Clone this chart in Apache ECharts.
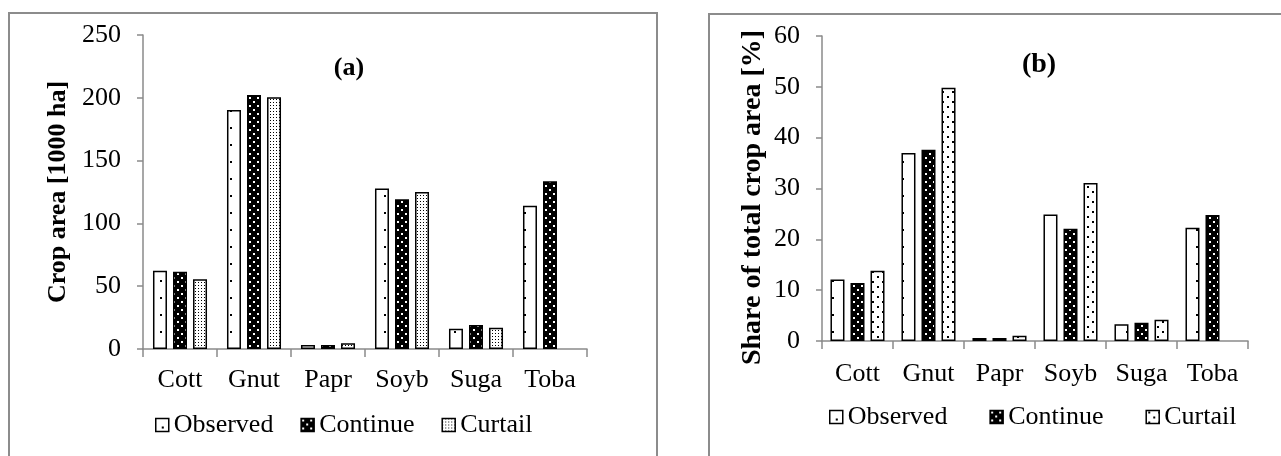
<!DOCTYPE html>
<html>
<head>
<meta charset="utf-8">
<script src="https://cdn.jsdelivr.net/npm/echarts@6/dist/echarts.min.js"></script>
<style>
html,body{margin:0;padding:0;background:#fff;}
#c{width:1281px;height:456px;}
</style>
</head>
<body>
<div id="c"></div>
<script>
const categories = ['Cott', 'Gnut', 'Papr', 'Soyb', 'Suga', 'Toba'];
const seriesNames = ['Observed', 'Continue', 'Curtail'];
// (a) crop area [1000 ha]
const areaObserved = [62.4, 190.3, 3.2, 127.7, 16.2, 114.1];
const areaContinue = [61.6, 202.2, 3.2, 119.2, 19.1, 133.5];
const areaCurtail  = [55.5, 200.4, 4.5, 125.0, 17.0, null];
// (b) share of total crop area [%]
const shareObserved = [12.1, 37.0, 0.6, 24.9, 3.3, 22.3];
const shareContinue = [11.4, 37.6, 0.6, 22.1, 3.6, 24.8];
const shareCurtail  = [13.8, 49.8, 1.05, 31.1, 4.2, null];
const ticksA = {min: 0, max: 250, interval: 50};
const ticksB = {min: 0, max: 60, interval: 10};

function makePattern(w, h, bg, fg, dots, ds) {
  const cv = document.createElement('canvas');
  cv.width = w; cv.height = h;
  const ctx = cv.getContext('2d');
  ctx.fillStyle = bg; ctx.fillRect(0, 0, w, h);
  ctx.fillStyle = fg;
  dots.forEach(d => ctx.fillRect(d[0], d[1], ds, ds));
  return {image: cv, repeat: 'repeat'};
}
const patObs = makePattern(14, 17, '#fff', '#000', [[6, 8]], 2);
const patCont = makePattern(8, 8, '#000', '#fff', [[1, 1], [5, 5]], 2);
const patCurtA = makePattern(3, 3, '#fff', '#000', [[0, 0]], 1);
const patCurtB = makePattern(10, 10, '#fff', '#000', [[2, 1], [7, 6]], 2);

const FONT = 'Liberation Serif';
const AXIS_COLOR = '#8a8a8a';

function xAxis(gridIndex, margin) {
  return {
    type: 'category', gridIndex, data: categories,
    axisLine: {lineStyle: {color: AXIS_COLOR, width: 1.5}},
    axisTick: {show: true, length: 8, lineStyle: {color: AXIS_COLOR, width: 1.5}},
    axisLabel: {color: '#000', fontFamily: FONT, fontSize: 26, margin}
  };
}
function yAxis(gridIndex, t, name, nameSize, nameGap, namePad) {
  return {
    type: 'value', gridIndex, min: t.min, max: t.max, interval: t.interval,
    name, nameLocation: 'middle', nameGap,
    nameTextStyle: {color: '#000', fontFamily: FONT, fontWeight: 'bold', fontSize: nameSize, padding: namePad},
    axisLine: {show: true, lineStyle: {color: AXIS_COLOR, width: 1.5}},
    axisTick: {show: true, length: 6, lineStyle: {color: AXIS_COLOR, width: 1.5}},
    splitLine: {show: false},
    axisLabel: {color: '#000', fontFamily: FONT, fontSize: 26, margin: 22}
  };
}
function bar(name, data, idx, pat) {
  return {
    type: 'bar', name, data, xAxisIndex: idx, yAxisIndex: idx,
    barWidth: 14, barGap: '43%',
    itemStyle: {color: pat, borderColor: '#000', borderWidth: 1.5},
    emphasis: {disabled: true}
  };
}
function legend(left, top, gap, curtPat) {
  return {
    left, top, itemGap: gap, itemWidth: 13, itemHeight: 13,
    icon: 'rect',
    textStyle: {color: '#000', fontFamily: FONT, fontSize: 26, padding: [0, 0, 0, 0]},
    data: [
      {name: 'Observed', itemStyle: {color: patObs, borderColor: '#000', borderWidth: 1.5}},
      {name: 'Continue', itemStyle: {color: patCont, borderColor: '#000', borderWidth: 1.5}},
      {name: 'Curtail', itemStyle: {color: curtPat, borderColor: '#000', borderWidth: 1.5}}
    ],
    selectedMode: false
  };
}

const chart = echarts.init(document.getElementById('c'), null, {renderer: 'canvas'});
chart.setOption({
  animation: false,
  backgroundColor: '#fff',
  title: [
    {text: '(a)', left: 344, top: 50, textAlign: 'center',
     textStyle: {fontFamily: FONT, fontWeight: 'bold', fontSize: 26, color: '#000'}},
    {text: '(b)', left: 1034, top: 46, textAlign: 'center',
     textStyle: {fontFamily: FONT, fontWeight: 'bold', fontSize: 28, color: '#000'}}
  ],
  grid: [
    {left: 143, top: 35, width: 444, height: 314},
    {left: 822, top: 36, width: 426, height: 305}
  ],
  xAxis: [xAxis(0, 18), xAxis(1, 20)],
  yAxis: [
    yAxis(0, ticksA, 'Crop area [1000 ha]', 26, 72, [0, 0, 0, 0]),
    yAxis(1, ticksB, 'Share of total crop area [%]', 28, 55, [0, 18, 0, 0])
  ],
  legend: [
    legend(150, 407, 27, patCurtA),
    legend(824, 399, 42, patCurtB)
  ],
  series: [
    bar(seriesNames[0], areaObserved, 0, patObs),
    bar(seriesNames[1], areaContinue, 0, patCont),
    bar(seriesNames[2], areaCurtail, 0, patCurtA),
    bar(seriesNames[0], shareObserved, 1, patObs),
    bar(seriesNames[1], shareContinue, 1, patCont),
    bar(seriesNames[2], shareCurtail, 1, patCurtB)
  ],
  graphic: [
    {type: 'rect', shape: {x: 9, y: 13, width: 648, height: 480}, silent: true,
     style: {fill: null, stroke: '#8c8c8c', lineWidth: 2}},
    {type: 'rect', shape: {x: 709, y: 14, width: 600, height: 480}, silent: true,
     style: {fill: null, stroke: '#8c8c8c', lineWidth: 2}}
  ]
});
</script>
</body>
</html>
